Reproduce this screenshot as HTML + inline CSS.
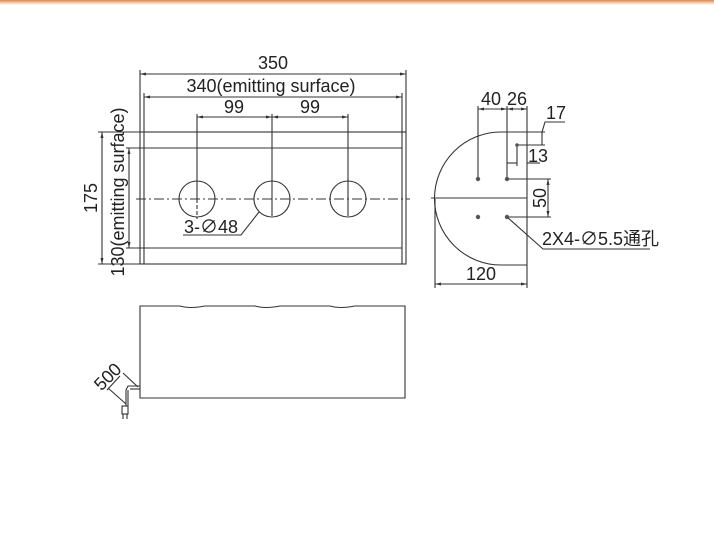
<!DOCTYPE html>
<html><head><style>
body{margin:0;background:#fff;}
svg{display:block;font-family:"Liberation Sans","Noto Sans CJK SC",sans-serif;}
text{fill:#222;font-size:18px;}
</style></head><body>
<svg width="714" height="550" viewBox="0 0 714 550">
<defs>
<linearGradient id="g" x1="0" y1="0" x2="0" y2="1"><stop offset="0" stop-color="#d9885a"/><stop offset="0.5" stop-color="#efc5a5"/><stop offset="1" stop-color="#fff"/></linearGradient>
<marker id="a" markerWidth="6" markerHeight="6" refX="6" refY="3" orient="auto-start-reverse" markerUnits="userSpaceOnUse"><path d="M0,1.5 L6,3 L0,4.5z" fill="#333"/></marker>
</defs>
<rect x="0" y="0" width="714" height="5" fill="url(#g)"/>
<g stroke="#333" stroke-width="1.1" fill="none">
<rect x="140" y="132" width="266" height="132"/>
<line x1="144" y1="132" x2="144" y2="264"/><line x1="402" y1="132" x2="402" y2="264"/>
<line x1="144" y1="148" x2="402" y2="148"/><line x1="144" y1="248" x2="402" y2="248"/>
<line x1="140" y1="70" x2="140" y2="132"/><line x1="406" y1="70" x2="406" y2="132"/>
<line x1="140" y1="74" x2="406" y2="74" marker-start="url(#a)" marker-end="url(#a)"/>
<line x1="144" y1="93" x2="144" y2="132"/><line x1="402" y1="93" x2="402" y2="132"/>
<line x1="144" y1="97" x2="402" y2="97" marker-start="url(#a)" marker-end="url(#a)"/>
<line x1="197" y1="114" x2="197" y2="199"/><line x1="272" y1="114" x2="272" y2="216"/><line x1="348" y1="114" x2="348" y2="216"/>
<line x1="197" y1="117" x2="272" y2="117" marker-start="url(#a)" marker-end="url(#a)"/>
<line x1="272" y1="117" x2="348" y2="117" marker-start="url(#a)" marker-end="url(#a)"/>
<circle cx="197" cy="199" r="18"/><circle cx="272" cy="199" r="18"/><circle cx="348" cy="199" r="18"/>
<line x1="197" y1="199" x2="197" y2="219" stroke-dasharray="4,2"/>
<line x1="136" y1="199" x2="410" y2="199" stroke-dasharray="10,3,2,3"/>
<polyline points="259,212 241,235 183,235"/>
<line x1="98" y1="132" x2="140" y2="132"/><line x1="98" y1="264" x2="140" y2="264"/>
<line x1="102" y1="132" x2="102" y2="264" marker-start="url(#a)" marker-end="url(#a)"/>
<line x1="126" y1="148" x2="144" y2="148"/><line x1="126" y1="248" x2="144" y2="248"/>
<line x1="129" y1="148" x2="129" y2="248" marker-start="url(#a)" marker-end="url(#a)"/>
<path d="M527,132 L501,132 A66.5,66.5 0 0 0 501,265 L527,265 Z"/>
<line x1="431" y1="198" x2="527" y2="198"/>
<line x1="478" y1="106" x2="478" y2="179"/><line x1="507" y1="106" x2="507" y2="179"/><line x1="527" y1="106" x2="527" y2="132"/>
<line x1="478" y1="109" x2="507" y2="109" marker-start="url(#a)" marker-end="url(#a)"/>
<line x1="507" y1="109" x2="527" y2="109" marker-start="url(#a)" marker-end="url(#a)"/>
<line x1="527" y1="132" x2="545" y2="132"/><line x1="517" y1="145" x2="545" y2="145"/>
<line x1="542" y1="132" x2="542" y2="145"/>
<polyline points="542,132 545,122 565,122"/>
<line x1="517" y1="145" x2="517" y2="166"/>
<line x1="507" y1="163" x2="517" y2="163"/>
<line x1="527" y1="163" x2="540" y2="163"/>
<line x1="507" y1="179" x2="551" y2="179"/><line x1="507" y1="217" x2="551" y2="217"/>
<line x1="548" y1="179" x2="548" y2="217" marker-start="url(#a)" marker-end="url(#a)"/>
<polyline points="507,217 543,249 650,249"/>
<line x1="435" y1="199" x2="435" y2="288"/><line x1="527" y1="265" x2="527" y2="288"/>
<line x1="435" y1="284" x2="527" y2="284" marker-start="url(#a)" marker-end="url(#a)"/>
<path d="M140,306 L180,306 Q190,309 205,306 L255,306 Q265,309 280,306 L330,306 Q340,309 355,306 L405,306 L405,398 L140,398 Z"/>
<polyline points="140,386 128,386 126,390 126,406"/>
<line x1="140" y1="389" x2="130" y2="389"/>
<line x1="128" y1="390" x2="128" y2="406"/>
<rect x="122" y="406" width="6" height="8"/>
<line x1="123" y1="414" x2="123" y2="419"/><line x1="127" y1="414" x2="127" y2="419"/>
<line x1="123" y1="373" x2="138" y2="387"/>
<line x1="108" y1="388" x2="126" y2="404"/>
<line x1="120" y1="376" x2="107" y2="390"/>
</g>
<g fill="#555"><circle cx="478" cy="179" r="2.2"/><circle cx="507" cy="179" r="2.2"/><circle cx="478" cy="217" r="2.2"/><circle cx="507" cy="217" r="2.2"/><circle cx="517" cy="145" r="1.8"/></g>
<text x="273" y="69" text-anchor="middle">350</text>
<text x="271" y="92" text-anchor="middle">340(emitting surface)</text>
<text x="234" y="113" text-anchor="middle">99</text>
<text x="310" y="113" text-anchor="middle">99</text>
<text x="184" y="233">3-∅48</text>
<text transform="translate(97,198) rotate(-90)" text-anchor="middle">175</text>
<text transform="translate(124,192) rotate(-90)" text-anchor="middle">130(emitting surface)</text>
<text x="491" y="105" text-anchor="middle">40</text>
<text x="517" y="105" text-anchor="middle">26</text>
<text x="546" y="119">17</text>
<text x="528" y="162">13</text>
<text transform="translate(546,198) rotate(-90)" text-anchor="middle">50</text>
<text x="542" y="245">2X4-∅5.5通孔</text>
<text x="481" y="280" text-anchor="middle">120</text>
<text transform="translate(112,381) rotate(-45)" text-anchor="middle">500</text>
</svg>
</body></html>
